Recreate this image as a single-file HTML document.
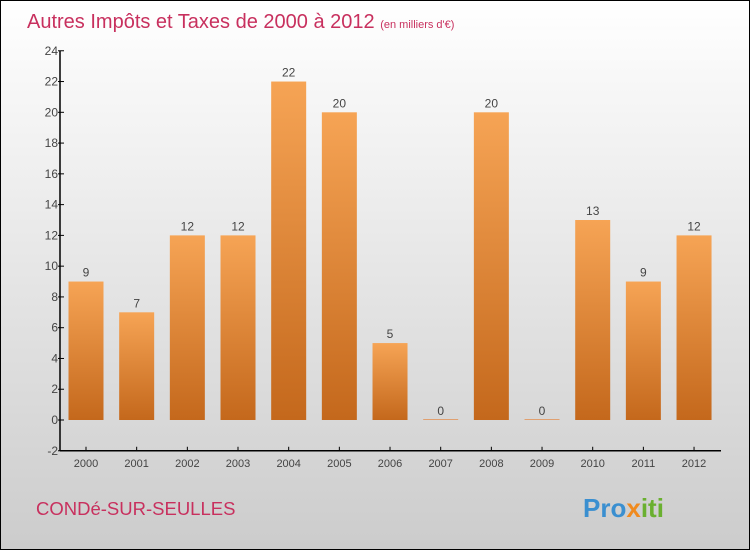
<!DOCTYPE html>
<html><head><meta charset="utf-8"><style>
body{margin:0}
#c{width:748px;height:548px;border:1px solid #000;background:linear-gradient(#fff,#ccc);position:relative;font-family:"Liberation Sans",sans-serif;overflow:hidden}
</style></head><body>
<div id="c">
<svg width="748" height="548" id="svg">
<defs><linearGradient id="g" x1="0" y1="0" x2="0" y2="1"><stop offset="0" stop-color="#f6a455"/><stop offset="1" stop-color="#c4681c"/></linearGradient></defs>
<text x="26" y="27" font-size="20" fill="#c8305e">Autres Impôts et Taxes de 2000 à 2012 <tspan font-size="11">(en milliers d'€)</tspan></text>
<text x="35" y="514" font-size="18.5" fill="#c8305e">CONDé-SUR-SEULLES</text>
<text x="582" y="516" font-size="26" font-weight="bold" fill="#3a8fd0">Pro<tspan fill="#f08a1e">x</tspan><tspan fill="#6ab030">iti</tspan></text>
<g id="plot"></g>
</svg></div>
<script>
const years=["2000","2001","2002","2003","2004","2005","2006","2007","2008","2009","2010","2011","2012"];
const values=[9,7,12,12,22,20,5,0,20,0,13,9,12];
const ticks=[-2,0,2,4,6,8,10,12,14,16,18,20,22,24];
const NS="http://www.w3.org/2000/svg";
const p=document.getElementById('plot');
const y=v=>419-(v)*400/26;
const x=i=>85+i*50.67;
function mk(t,a){const e=document.createElementNS(NS,t);for(const k in a)e.setAttribute(k,a[k]);p.appendChild(e);return e;}
let ax=mk('line',{x1:59,y1:y(24),x2:59,y2:y(-2),stroke:'#000','stroke-width':1.5});

let bx=mk('line',{x1:59,y1:y(-2),x2:720,y2:y(-2),stroke:'#000','stroke-width':1.5});

ticks.forEach(t=>{
 let l=mk('line',{x1:57,y1:y(t),x2:63,y2:y(t),stroke:'#000'});
 
 let tx=mk('text',{x:57,y:y(t)+4,'font-size':12,'text-anchor':'end',fill:'#444'});tx.textContent=t;
 
});
years.forEach((yr,i)=>{
 const v=values[i];
 let tk=mk('line',{x1:x(i),y1:y(-2),x2:x(i),y2:y(-2)-4,stroke:'#000'});
 
 let r=mk('rect',{x:x(i)-17.5,y:Math.min(y(v),y(0)-1),width:35,height:Math.max(Math.abs(y(0)-y(v)),1),fill:v?'url(#g)':'#e0a070'});
 
 let lb=mk('text',{x:x(i),y:y(v)-5,'font-size':12,'text-anchor':'middle',fill:'#444'});lb.textContent=v;
 
 let xl=mk('text',{x:x(i),y:y(-2)+16,'font-size':11,'text-anchor':'middle',fill:'#444'});xl.textContent=yr;
 
});
</script>
</body></html>
